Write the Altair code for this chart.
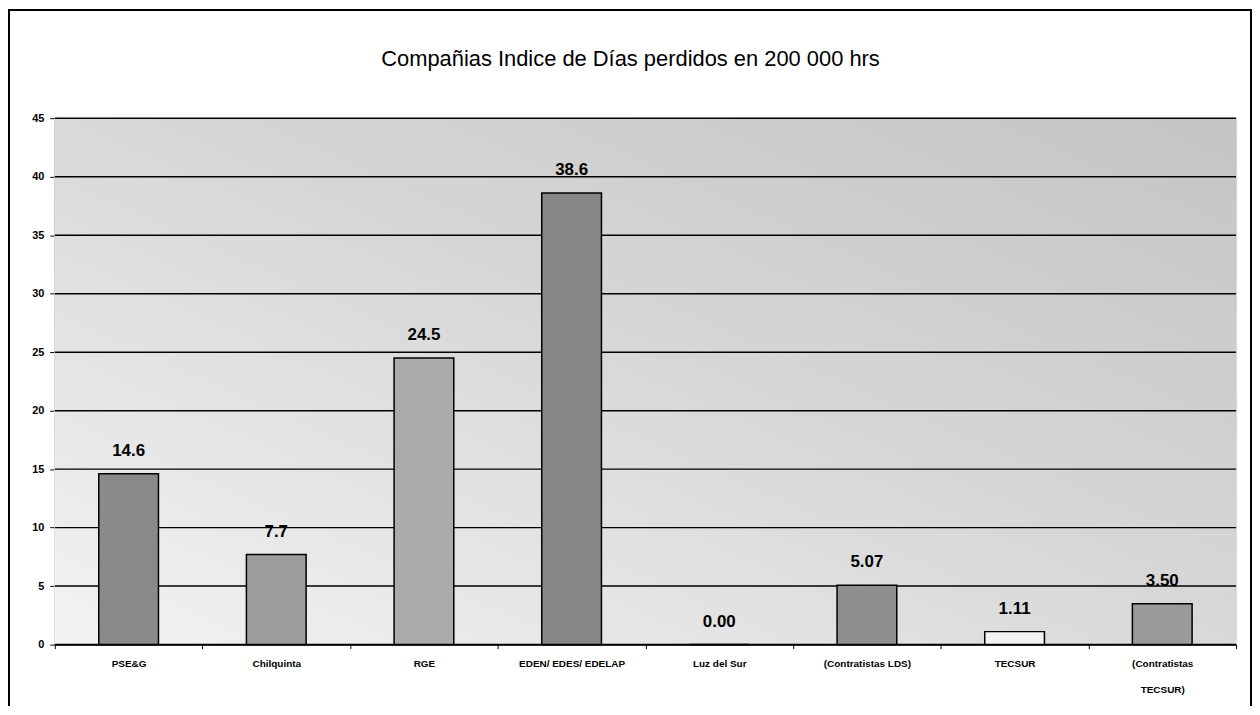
import altair as alt
import pandas as pd

categories = ["PSE&G", "Chilquinta", "RGE", "EDEN/ EDES/ EDELAP", "Luz del Sur",
              "(Contratistas LDS)", "TECSUR", "(Contratistas\nTECSUR)"]
values = [14.6, 7.7, 24.5, 38.6, 0.00, 5.07, 1.11, 3.50]
value_labels = ["14.6", "7.7", "24.5", "38.6", "0.00", "5.07", "1.11", "3.50"]
y_ticks = [0, 5, 10, 15, 20, 25, 30, 35, 40, 45]
bar_shades = ["#8a8a8a", "#9c9c9c", "#ababab", "#878787", "#8a8a8a",
              "#8e8e8e", "#f2f2f2", "#9a9a9a"]

df = pd.DataFrame({"cat": categories, "val": values, "lab": value_labels})

W, H = 1187, 529
FONT = "Liberation Sans"

x_enc = alt.X("cat:N", sort=categories, title=None,
              scale=alt.Scale(paddingInner=0, paddingOuter=0),
              axis=alt.Axis(labelExpr="split(datum.label, '\\n')", labelAngle=0,
                            labelFont=FONT, labelFontSize=10, labelFontWeight="bold",
                            labelColor="black", labelPadding=10, labelLineHeight=26,
                            tickBand="extent", tickSize=4, tickColor="black",
                            domainColor="black", domainWidth=1.5, grid=False,
                            labelBaseline="top"))
y_scale = alt.Scale(domain=[0, 45], nice=False)

background = alt.Chart(df).mark_rect(
    color=alt.Gradient(gradient="linear",
                       stops=[alt.GradientStop(color="#f3f3f3", offset=0),
                              alt.GradientStop(color="#d6d6d6", offset=0.55),
                              alt.GradientStop(color="#c4c4c4", offset=1)],
                       x1=0, y1=1, x2=1, y2=0)
).encode(y=alt.datum(0, scale=y_scale), y2=alt.datum(45))

grid = alt.Chart(pd.DataFrame({"t": y_ticks})).mark_rule(color="black", strokeWidth=1.5).encode(
    y=alt.Y("t:Q", scale=y_scale, title=None,
            axis=alt.Axis(values=y_ticks, labelFont=FONT, labelFontSize=11,
                          labelFontWeight="bold", labelColor="black", tickSize=5,
                          tickColor="black", domainColor="black", domainWidth=1.5,
                          labelPadding=6, grid=False))
)

bars = alt.Chart(df).mark_bar(size=60, stroke="black", strokeWidth=1.5).encode(
    x=x_enc,
    y=alt.Y("val:Q", scale=y_scale),
    color=alt.Color("cat:N", scale=alt.Scale(domain=categories, range=bar_shades), legend=None),
)

texts = alt.Chart(df).mark_text(font=FONT, fontSize=17, fontWeight="bold", color="black",
                                baseline="alphabetic", dy=-18).encode(
    x=alt.X("cat:N", sort=categories),
    y=alt.Y("val:Q", scale=y_scale),
    text="lab:N",
)

frame = alt.Chart(df).mark_rect(fill=None, stroke="black", strokeWidth=1.5).encode(
    x=alt.value(-46), x2=alt.value(1202), y=alt.value(-109), y2=alt.value(603)
)

chart = alt.layer(background, grid, bars, texts, frame).properties(
    width=W, height=H,
    title=alt.Title("Compañias Indice de Días perdidos en 200 000 hrs",
                    font=FONT, fontSize=22,
                    fontWeight="normal", color="black",
                    offset=0, dy=79, dx=-15, anchor="middle", baseline="alphabetic"),
    autosize=alt.AutoSizeParams(type="none"),
    padding={"left": 47, "top": 109, "right": 16, "bottom": 60},
).configure_view(stroke="black", strokeWidth=1.5).configure(background="white")

chart.save("out.html", embed_options={"renderer": "svg", "actions": False})
